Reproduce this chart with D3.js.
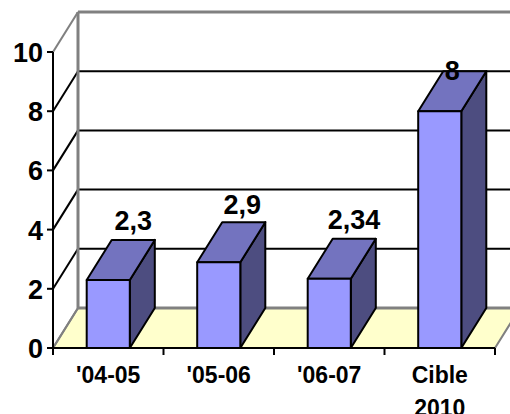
<!DOCTYPE html>
<html>
<head>
<meta charset="utf-8">
<script src="https://cdn.jsdelivr.net/npm/d3@7"></script>
<style>
  body { margin: 0; background: #ffffff; }
  svg { display: block; font-family: "Liberation Sans", Arial, sans-serif; font-weight: bold; }
</style>
</head>
<body>
<div id="chart"></div>
<script>
// Chart data
var categories = ["'04-05", "'05-06", "'06-07", "Cible 2010"];
var values = [2.3, 2.9, 2.34, 8];
var yTicks = [0, 2, 4, 6, 8, 10];

// Define SVG area dimensions
var svgWidth = 510;
var svgHeight = 414;

// Front plane of the 3D box and depth offset
var plotLeft = 53, plotRight = 495, plotTop = 52, plotBottom = 348;
var depthX = 25, depthY = -40;

var svg = d3.select("#chart")
  .append("svg")
  .attr("width", svgWidth)
  .attr("height", svgHeight);

var xScale = d3.scaleBand()
  .domain(categories)
  .range([plotLeft, plotRight])
  .paddingInner(0.61)
  .paddingOuter(0.305);

var yScale = d3.scaleLinear()
  .domain([0, 10])
  .range([plotBottom, plotTop]);

var step = xScale.step();
var bw = xScale.bandwidth();

function poly(pts) { return pts.map(p => p.join(",")).join(" "); }

// Floor
svg.append("polygon")
  .attr("points", poly([[plotLeft, plotBottom], [plotRight, plotBottom],
    [plotRight + depthX, plotBottom + depthY], [plotLeft + depthX, plotBottom + depthY]]))
  .attr("fill", "#ffffcc")
  .attr("stroke", "#808080")
  .attr("stroke-width", 2);

// Gridlines on back wall and left wall
var grid = svg.append("g");
yTicks.forEach(function(t) {
  var y = yScale(t);
  var edge = (t === 0 || t === 10);
  var col = edge ? "#808080" : "#000000";
  grid.append("line")
    .attr("x1", plotLeft).attr("y1", y)
    .attr("x2", plotLeft + depthX).attr("y2", y + depthY)
    .attr("stroke", col).attr("stroke-width", 2);
  grid.append("line")
    .attr("x1", plotLeft + depthX).attr("y1", y + depthY)
    .attr("x2", plotRight + depthX).attr("y2", y + depthY)
    .attr("stroke", col).attr("stroke-width", edge ? 3 : 2);
});

// Back wall left edge
grid.append("line")
  .attr("x1", plotLeft + depthX).attr("y1", yScale(10) + depthY)
  .attr("x2", plotLeft + depthX).attr("y2", yScale(0) + depthY)
  .attr("stroke", "#808080").attr("stroke-width", 3);

// Bars: side, top and front faces
var bars = svg.selectAll("g.bar")
  .data(values)
  .enter()
  .append("g")
  .attr("class", "bar");

bars.append("polygon")
  .attr("points", function(d, i) {
    var x1 = xScale(categories[i]) + bw, y0 = yScale(d);
    return poly([[x1, y0], [x1 + depthX, y0 + depthY], [x1 + depthX, plotBottom + depthY], [x1, plotBottom]]);
  })
  .attr("fill", "#4d4d80");

bars.append("polygon")
  .attr("points", function(d, i) {
    var x0 = xScale(categories[i]), x1 = x0 + bw, y0 = yScale(d);
    return poly([[x0, y0], [x1, y0], [x1 + depthX, y0 + depthY], [x0 + depthX, y0 + depthY]]);
  })
  .attr("fill", "#7373bf");

bars.append("rect")
  .attr("x", (d, i) => xScale(categories[i]))
  .attr("y", d => yScale(d))
  .attr("width", bw)
  .attr("height", d => plotBottom - yScale(d))
  .attr("fill", "#9999ff");

bars.selectAll("polygon, rect")
  .attr("stroke", "#000000")
  .attr("stroke-width", 2)
  .attr("stroke-linejoin", "round");

// Y axis
svg.append("line")
  .attr("x1", plotLeft).attr("y1", plotTop).attr("x2", plotLeft).attr("y2", plotBottom)
  .attr("stroke", "#000").attr("stroke-width", 2);

yTicks.forEach(function(t) {
  svg.append("line")
    .attr("x1", plotLeft - 6).attr("y1", yScale(t)).attr("x2", plotLeft).attr("y2", yScale(t))
    .attr("stroke", "#000").attr("stroke-width", 2);
  svg.append("text")
    .attr("x", plotLeft - 10)
    .attr("y", yScale(t) + 10)
    .attr("text-anchor", "end")
    .attr("font-size", 27)
    .text(t);
});

// X axis
svg.append("line")
  .attr("x1", plotLeft).attr("y1", plotBottom).attr("x2", plotRight).attr("y2", plotBottom)
  .attr("stroke", "#000").attr("stroke-width", 2);

d3.range(categories.length + 1).forEach(function(i) {
  var x = plotLeft + i * step;
  svg.append("line")
    .attr("x1", x).attr("y1", plotBottom).attr("x2", x).attr("y2", plotBottom + 7)
    .attr("stroke", "#000").attr("stroke-width", 2);
});

svg.selectAll("text.xlab")
  .data(categories)
  .enter()
  .append("text")
  .attr("class", "xlab")
  .attr("text-anchor", "middle")
  .attr("font-size", 23)
  .each(function(c) {
    var t = d3.select(this);
    var cx = xScale(c) + bw / 2;
    c.split(" ").forEach(function(w, k) {
      t.append("tspan").attr("x", cx).attr("y", 383 + k * 33).text(w);
    });
  });

// Value labels above the bars
svg.selectAll("text.val")
  .data(values)
  .enter()
  .append("text")
  .attr("class", "val")
  .attr("text-anchor", "middle")
  .attr("font-size", 27)
  .attr("x", (d, i) => xScale(categories[i]) + bw / 2 + 30 - 2.2 * d)
  .attr("y", d => yScale(d) - (57.7 - 3.33 * d))
  .text(d => String(d).replace(".", ","));
</script>
</body>
</html>
